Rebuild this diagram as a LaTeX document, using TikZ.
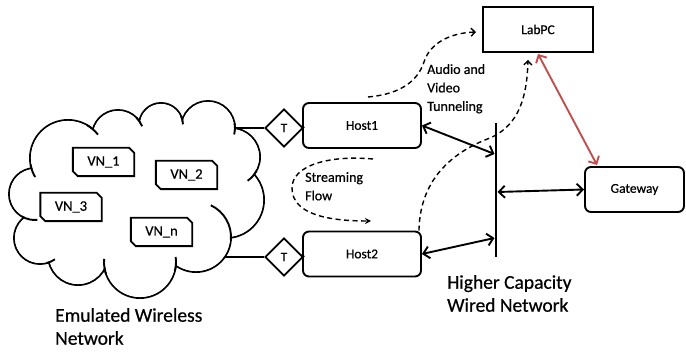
\documentclass[tikz,border=0pt]{standalone}
\usepackage{fontspec}
\setmainfont{Carlito}[FakeBold=0.6]
\usetikzlibrary{arrows.meta,shapes.geometric,calc}
\definecolor{linkred}{RGB}{192,80,77}

% frame with two snipped corners around a named node
\newcommand\snipframe[1]{%
  \draw[ink] (#1.north west) -- ([xshift=-5pt]#1.north east) -- ([yshift=-5pt]#1.north east)
    -- (#1.south east) -- ([xshift=5pt]#1.south west) -- ([yshift=5pt]#1.south west) -- cycle;}

\begin{document}
\begin{tikzpicture}[x=1pt,y=-1pt,
  ink/.style={line width=1.9pt},
  boxfont/.style={font=\fontsize{13.5}{16}\selectfont},
  hostbox/.style={draw, ink, boxfont, rounded corners=6pt, minimum width=118pt, minimum height=45pt, inner sep=0pt},
  pcbox/.style={draw, ink, boxfont, minimum width=110pt, minimum height=45pt, inner sep=0pt},
  gwbox/.style={draw, ink, boxfont, rounded corners=6pt, minimum width=99pt, minimum height=45pt, inner sep=0pt},
  vnbox/.style={minimum width=61pt, minimum height=28pt, inner sep=0pt, font=\fontsize{14.5}{16}\selectfont},
  tap/.style={draw, ink, diamond, aspect=1, minimum width=38pt, minimum height=38pt, inner sep=0pt, font=\fontsize{13}{14}\selectfont},
  link/.style={ink, {Straight Barb[length=6pt,width=12pt]}-{Straight Barb[length=6pt,width=12pt]}},
  flow/.style={line width=1.4pt, dash pattern=on 5pt off 3.5pt},
  note/.style={font=\fontsize{14}{18.5}\selectfont, align=left, inner sep=0pt},
  title/.style={font=\fontsize{19.5}{23}\selectfont, align=left, inner sep=0pt}
]
\useasboundingbox (0,0) rectangle (686,352);

% ---------- nodes ----------
\node[tap] (t1) at (284,128) {T};
\node[tap] (t2) at (284,257) {T};
\node[hostbox] (h1) at (362,125.5) {Host1};
\node[hostbox] (h2) at (362,254) {Host2};
\node[pcbox] (lab) at (538,29.5) {LabPC};
\node[gwbox] (gw) at (634.5,189.5) {Gateway};

% wired backbone
\coordinate (bt) at (496,123);
\coordinate (bb) at (496,257);
\draw[line width=2.8pt] (bt) -- (bb);
\coordinate (b1) at (494.5,154);
\coordinate (b2) at (494.5,238);
\coordinate (b3) at (497.5,192);

% cloud attachment points (hidden under the cloud)
\coordinate (c1) at (228,128);
\coordinate (c2) at (215,257);
\draw[ink] (c1) -- (t1.west);
\draw[ink] (c2) -- (t2.west);
\draw[ink] (t1.east) -- (h1.west);
\draw[ink] (t2.east) -- (h2.west);

% ---------- cloud ----------
\def\puffs{68/158/38, 118/136/26, 161/125/22, 208/128/27, 231/157/29, 226/200/38,
           196/237/35, 140/262/36, 78/255/30, 40/238/26, 35/194/26}
\foreach \cx/\cy/\r in \puffs \draw[ink] (\cx,\cy) circle[radius=\r];
\foreach \cx/\cy/\r in \puffs \fill[white] (\cx,\cy) circle[radius={\r-0.95}];
\fill[white] (68,158) -- (118,136) -- (161,125) -- (208,128) -- (231,157) -- (226,200)
  -- (196,237) -- (140,262) -- (78,255) -- (40,238) -- (35,194) -- cycle;
% inward hooks where puffs meet
\foreach \cx/\cy/\r/\a/\b in {68/158/38/170/150, 68/158/38/-60/-38, 118/136/26/-45/-22,
    161/125/22/-25/-2, 208/128/27/-10/14, 231/157/29/28/55, 196/237/35/5/-65,
    140/262/36/15/-8, 140/262/36/160/185, 40/238/26/75/55, 35/194/26/120/85}
  \draw[ink] ($(\cx,\cy)+(\a:\r)$) arc[start angle=\a, end angle=\b, radius=\r];

% virtual nodes
\node[vnbox] (vn1) at (103.5,162) {VN\_1}; \snipframe{vn1}
\node[vnbox] (vn2) at (186.5,175) {VN\_2}; \snipframe{vn2}
\node[vnbox] (vn3) at (71,207) {VN\_3};   \snipframe{vn3}
\node[vnbox] (vnn) at (161.5,232) {VN\_n}; \snipframe{vnn}

% ---------- links ----------
\draw[link] (h1.east) -- (b1);
\draw[link] (h2.east) -- (b2);
\draw[link] (b3) -- (gw.west);
\draw[ink, linkred, {Straight Barb[length=6pt,width=12pt]}-{Straight Barb[length=6pt,width=12pt]}]
  ([yshift=-1pt]lab.south) -- ([xshift=13pt,yshift=1pt]gw.north west);

% ---------- dashed flows ----------
\coordinate (a0) at (368,97);
\coordinate (a1) at (476,32);
\draw[flow, -{Straight Barb[length=4pt,width=8pt]}] (a0) .. controls (402,94) and (418,80) .. (424,62)
  .. controls (430,43) and (450,33) .. (a1);

\coordinate (s0) at ([xshift=-3pt]h2.north east);
\coordinate (s1) at ([xshift=-10pt,yshift=-7pt]lab.south);
\draw[flow, -{Straight Barb[length=4pt,width=8pt]}] (s0) .. controls (420,175) and (458,150) .. (490,138)
  .. controls (520,125) and (527,95) .. (s1);

\coordinate (f0) at (373,159);
\coordinate (f1) at (371,221);
\draw[flow, -{Stealth[length=6pt,width=6pt]}] (f0) .. controls (330,155) and (292,165) .. (292,188)
  .. controls (292,215) and (330,221) .. (f1);

% ---------- labels ----------
\node[note, anchor=north west] (lblav) at (427,64) {Audio and\\Video\\Tunneling};
\node[note, anchor=north west] (lblsf) at (305,172) {Streaming\\Flow};
\node[title, anchor=north west] (lblwired) at (447,275) {Higher Capacity\\Wired Network};
\node[title, anchor=north west] (lblwl) at (55,308) {Emulated Wireless\\Network};
\end{tikzpicture}
\end{document}
